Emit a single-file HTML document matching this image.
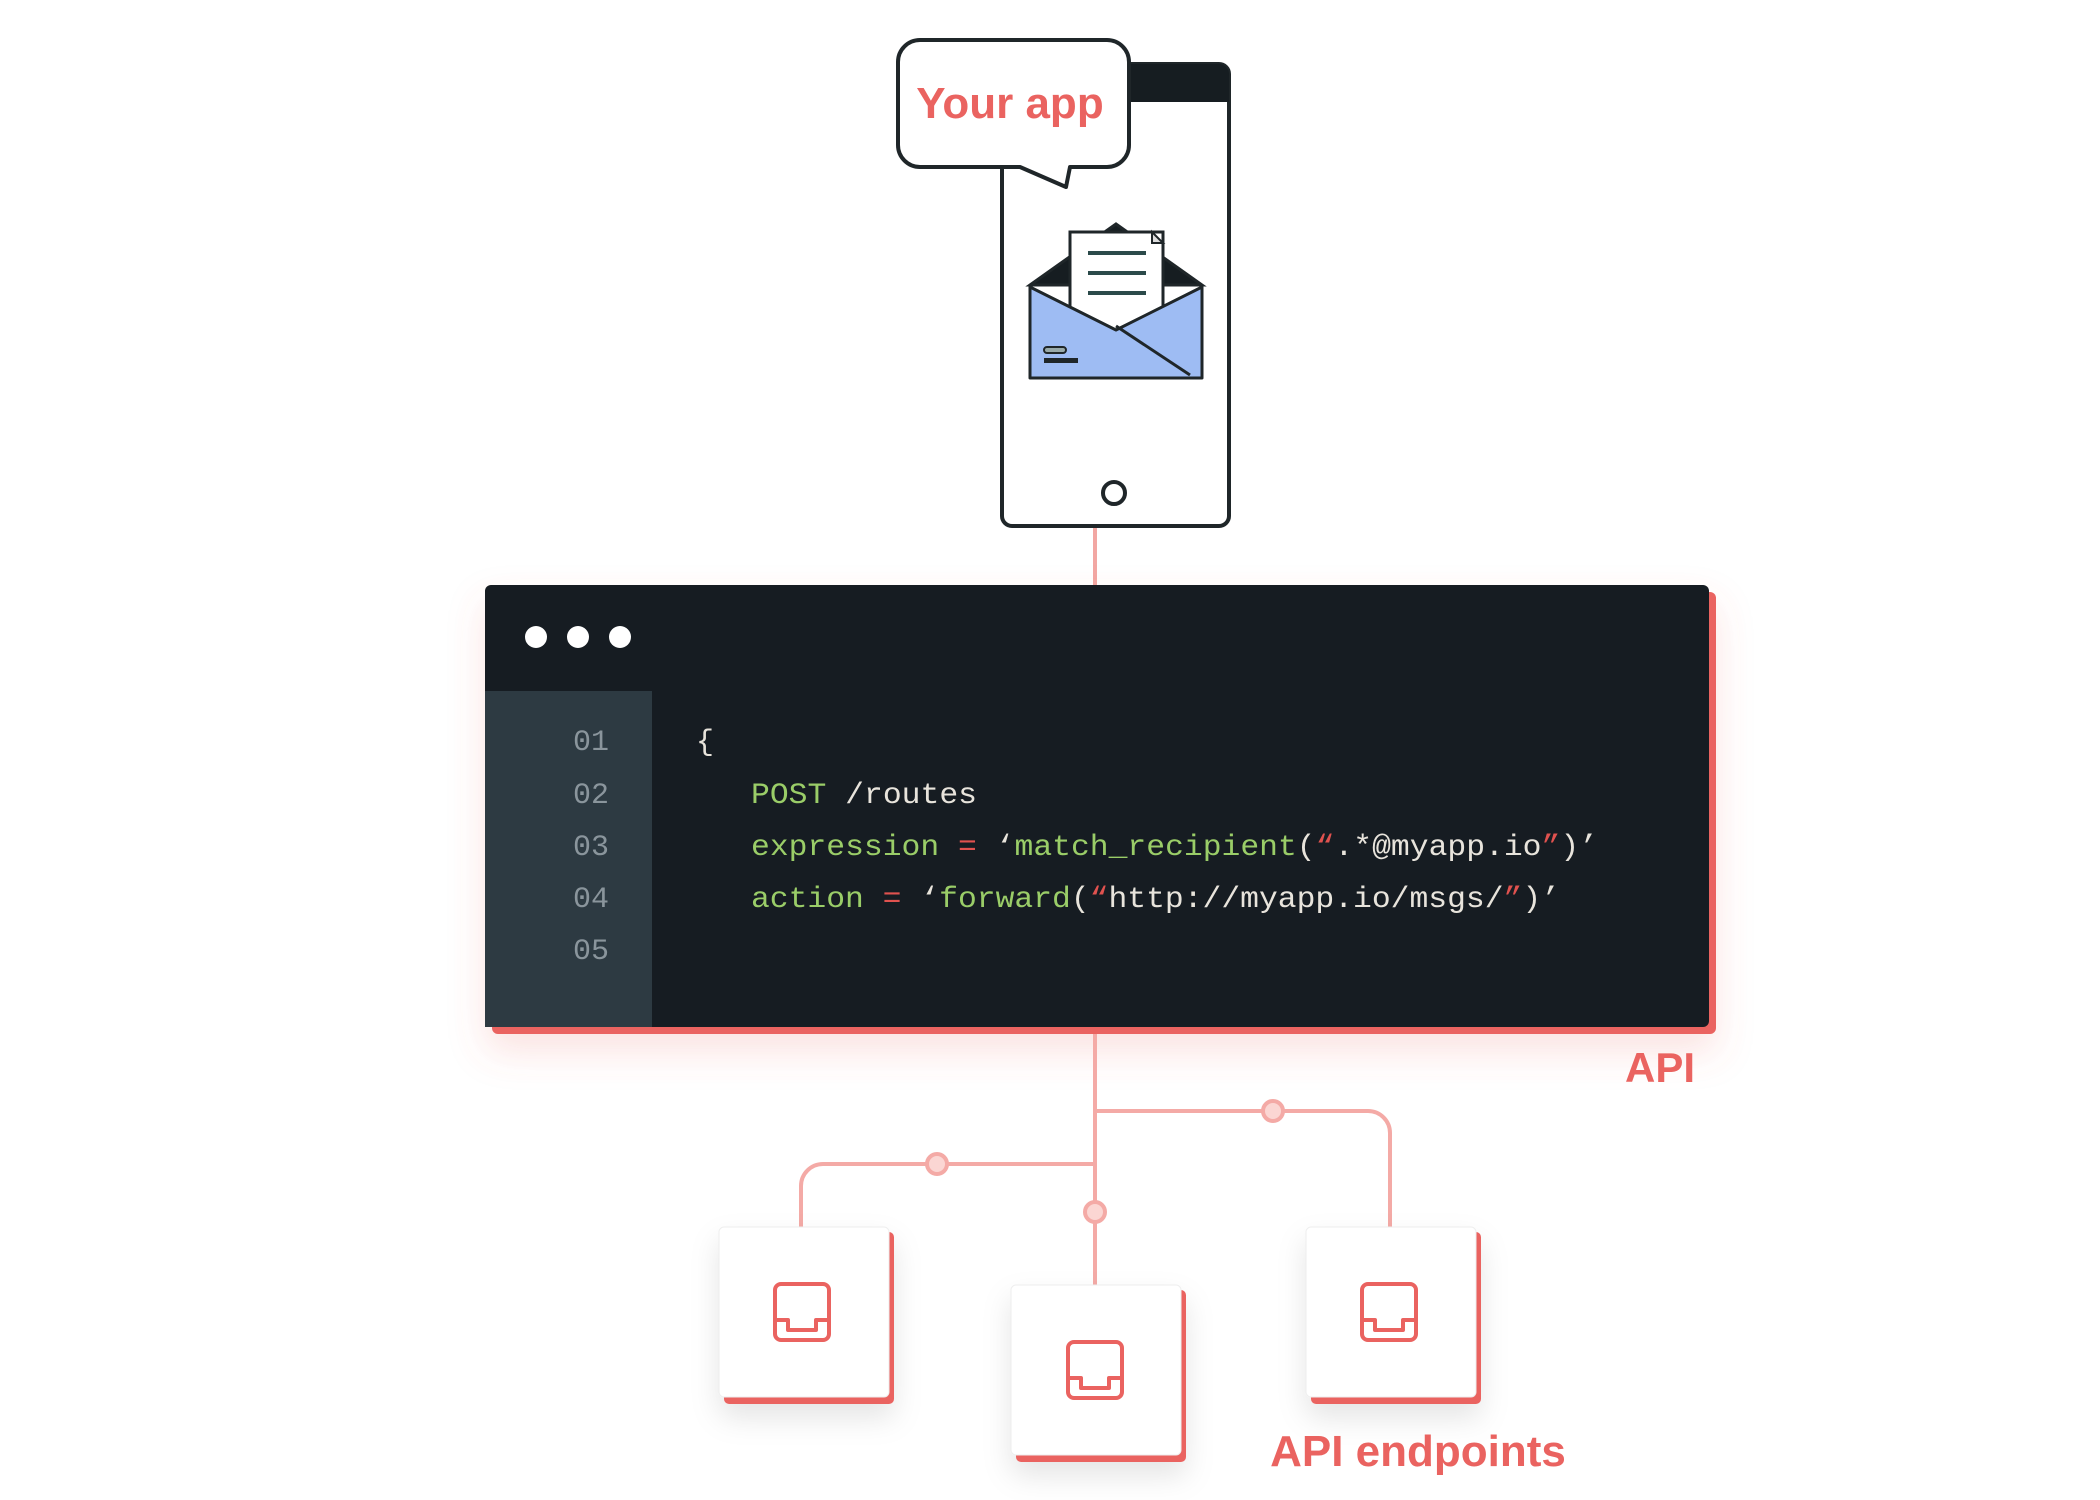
<!DOCTYPE html>
<html><head><meta charset="utf-8"><style>
html,body{margin:0;padding:0;background:#fff;}
svg{display:block;}
.mono{font-family:"Liberation Mono","DejaVu Sans Mono",monospace;font-size:30px;}
</style></head><body>
<svg width="2100" height="1500" viewBox="0 0 2100 1500" xmlns="http://www.w3.org/2000/svg">
<defs>
<filter id="sh" x="-20%" y="-20%" width="140%" height="160%"><feDropShadow dx="0" dy="18" stdDeviation="18" flood-color="#e8635f" flood-opacity="0.18"/></filter>
<filter id="sh2" x="-30%" y="-30%" width="160%" height="170%"><feDropShadow dx="0" dy="14" stdDeviation="14" flood-color="#000" flood-opacity="0.10"/></filter>
</defs>

<!-- phone -->
<rect x="1002" y="64" width="227" height="462" rx="10" fill="#fff" stroke="#1f2629" stroke-width="4"/>
<path d="M1100 64 H1219 a10 10 0 0 1 10 10 V102 H1100 Z" fill="#161d21"/>
<circle cx="1114" cy="493" r="11" fill="#fff" stroke="#1f2629" stroke-width="4"/>

<!-- speech bubble -->
<path d="M920 40 H1107 a22 22 0 0 1 22 22 V145 a22 22 0 0 1 -22 22 H1070 L1066 187 L1020 167 H920 a22 22 0 0 1 -22 -22 V62 a22 22 0 0 1 22 -22 Z" fill="#fff" stroke="#1f2629" stroke-width="4" stroke-linejoin="round"/>
<text x="1010" y="118" text-anchor="middle" font-family="Liberation Sans,sans-serif" font-weight="bold" font-size="44" fill="#ea6360">Your app</text>

<!-- envelope -->
<path d="M1030 285 L1116 224 L1202 285 Z" fill="#161d21" stroke="#1f2629" stroke-width="3"/>
<rect x="1070" y="232" width="93" height="100" fill="#fff" stroke="#1f2629" stroke-width="3"/>
<path d="M1152 232 l11 11 l-11 0 z" fill="#ddd" stroke="#1f2629" stroke-width="2"/>
<line x1="1088" y1="253" x2="1146" y2="253" stroke="#2b4a4a" stroke-width="4"/>
<line x1="1088" y1="273" x2="1146" y2="273" stroke="#2b4a4a" stroke-width="4"/>
<line x1="1088" y1="293" x2="1146" y2="293" stroke="#2b4a4a" stroke-width="4"/>
<path d="M1030 287 L1116 330 L1202 287 V378 H1030 Z" fill="#9ebcf3" stroke="#1f2629" stroke-width="3" stroke-linejoin="round"/>
<line x1="1116" y1="326" x2="1190" y2="375" stroke="#1f2629" stroke-width="3"/>
<rect x="1044" y="347" width="22" height="6" rx="3" fill="#9aa" stroke="#1f2629" stroke-width="2"/>
<rect x="1044" y="358" width="34" height="5" fill="#1f2629"/>

<!-- connector phone->code -->
<line x1="1095" y1="528" x2="1095" y2="585" stroke="#f2a7a3" stroke-width="4"/>

<!-- code window -->
<g filter="url(#sh)">
<rect x="492" y="592" width="1224" height="442" rx="6" fill="#ea6360"/>
<rect x="485" y="585" width="1224" height="442" rx="6" fill="#161d21"/>
</g>
<rect x="485" y="691" width="167" height="336" fill="#2d3a42"/>
<rect x="485" y="1017" width="167" height="10" fill="#2d3a42"/>
<circle cx="536" cy="637" r="11" fill="#fff"/>
<circle cx="578" cy="637" r="11" fill="#fff"/>
<circle cx="620" cy="637" r="11" fill="#fff"/>

<g class="mono" fill="#8a959c" text-anchor="middle">
<text x="591" y="750">01</text>
<text x="591" y="803">02</text>
<text x="591" y="855">03</text>
<text x="591" y="907">04</text>
<text x="591" y="959">05</text>
</g>
<g class="mono">
<text x="696" y="750" fill="#e8e4dc">{</text>
<text x="751" y="803" textLength="226" lengthAdjust="spacingAndGlyphs"><tspan fill="#9acd68">POST</tspan><tspan fill="#e8e4dc"> /routes</tspan></text>
<text x="751" y="855" textLength="847" lengthAdjust="spacingAndGlyphs"><tspan fill="#9acd68">expression </tspan><tspan fill="#e0524f">=</tspan><tspan fill="#e8e4dc"> ‘</tspan><tspan fill="#9acd68">match_recipient</tspan><tspan fill="#e8e4dc">(</tspan><tspan fill="#e0524f">“</tspan><tspan fill="#e8e4dc">.*@myapp.io</tspan><tspan fill="#e0524f">”</tspan><tspan fill="#e8e4dc">)’</tspan></text>
<text x="751" y="907" textLength="809" lengthAdjust="spacingAndGlyphs"><tspan fill="#9acd68">action </tspan><tspan fill="#e0524f">=</tspan><tspan fill="#e8e4dc"> ‘</tspan><tspan fill="#9acd68">forward</tspan><tspan fill="#e8e4dc">(</tspan><tspan fill="#e0524f">“</tspan><tspan fill="#e8e4dc">http://myapp.io/msgs/</tspan><tspan fill="#e0524f">”</tspan><tspan fill="#e8e4dc">)’</tspan></text>
</g>

<text x="1695" y="1082" text-anchor="end" font-family="Liberation Sans,sans-serif" font-weight="bold" font-size="42" fill="#ea6360">API</text>

<!-- connectors -->
<g fill="none" stroke="#f4aaa6" stroke-width="4">
<line x1="1095" y1="1034" x2="1095" y2="1285"/>
<path d="M1095 1111 H1368 a22 22 0 0 1 22 22 V1227"/>
<path d="M1095 1164 H823 a22 22 0 0 0 -22 22 V1227"/>
</g>
<g fill="#fbd6d3" stroke="#f4aaa6" stroke-width="4">
<circle cx="1273" cy="1111" r="10"/>
<circle cx="937" cy="1164" r="10"/>
<circle cx="1095" cy="1212" r="10"/>
</g>

<!-- endpoint boxes -->
<g>
<g filter="url(#sh2)"><rect x="724" y="1232" width="170" height="172" rx="5" fill="#ea6360"/><rect x="719" y="1227" width="170" height="170" rx="5" fill="#fff" stroke="#eee" stroke-width="1"/></g>
<g filter="url(#sh2)"><rect x="1016" y="1290" width="170" height="172" rx="5" fill="#ea6360"/><rect x="1011" y="1285" width="170" height="170" rx="5" fill="#fff" stroke="#eee" stroke-width="1"/></g>
<g filter="url(#sh2)"><rect x="1311" y="1232" width="170" height="172" rx="5" fill="#ea6360"/><rect x="1306" y="1227" width="170" height="170" rx="5" fill="#fff" stroke="#eee" stroke-width="1"/></g>
</g>
<g fill="none" stroke="#ea6360" stroke-width="4" stroke-linejoin="round">
<g transform="translate(802,1312)"><rect x="-27" y="-28" width="54" height="56" rx="6"/><path d="M-27 8 H-14 V18 H14 V8 H27"/></g>
<g transform="translate(1095,1370)"><rect x="-27" y="-28" width="54" height="56" rx="6"/><path d="M-27 8 H-14 V18 H14 V8 H27"/></g>
<g transform="translate(1389,1312)"><rect x="-27" y="-28" width="54" height="56" rx="6"/><path d="M-27 8 H-14 V18 H14 V8 H27"/></g>
</g>

<text x="1418" y="1466" text-anchor="middle" font-family="Liberation Sans,sans-serif" font-weight="bold" font-size="44" fill="#ea6360">API endpoints</text>
</svg>
</body></html>
